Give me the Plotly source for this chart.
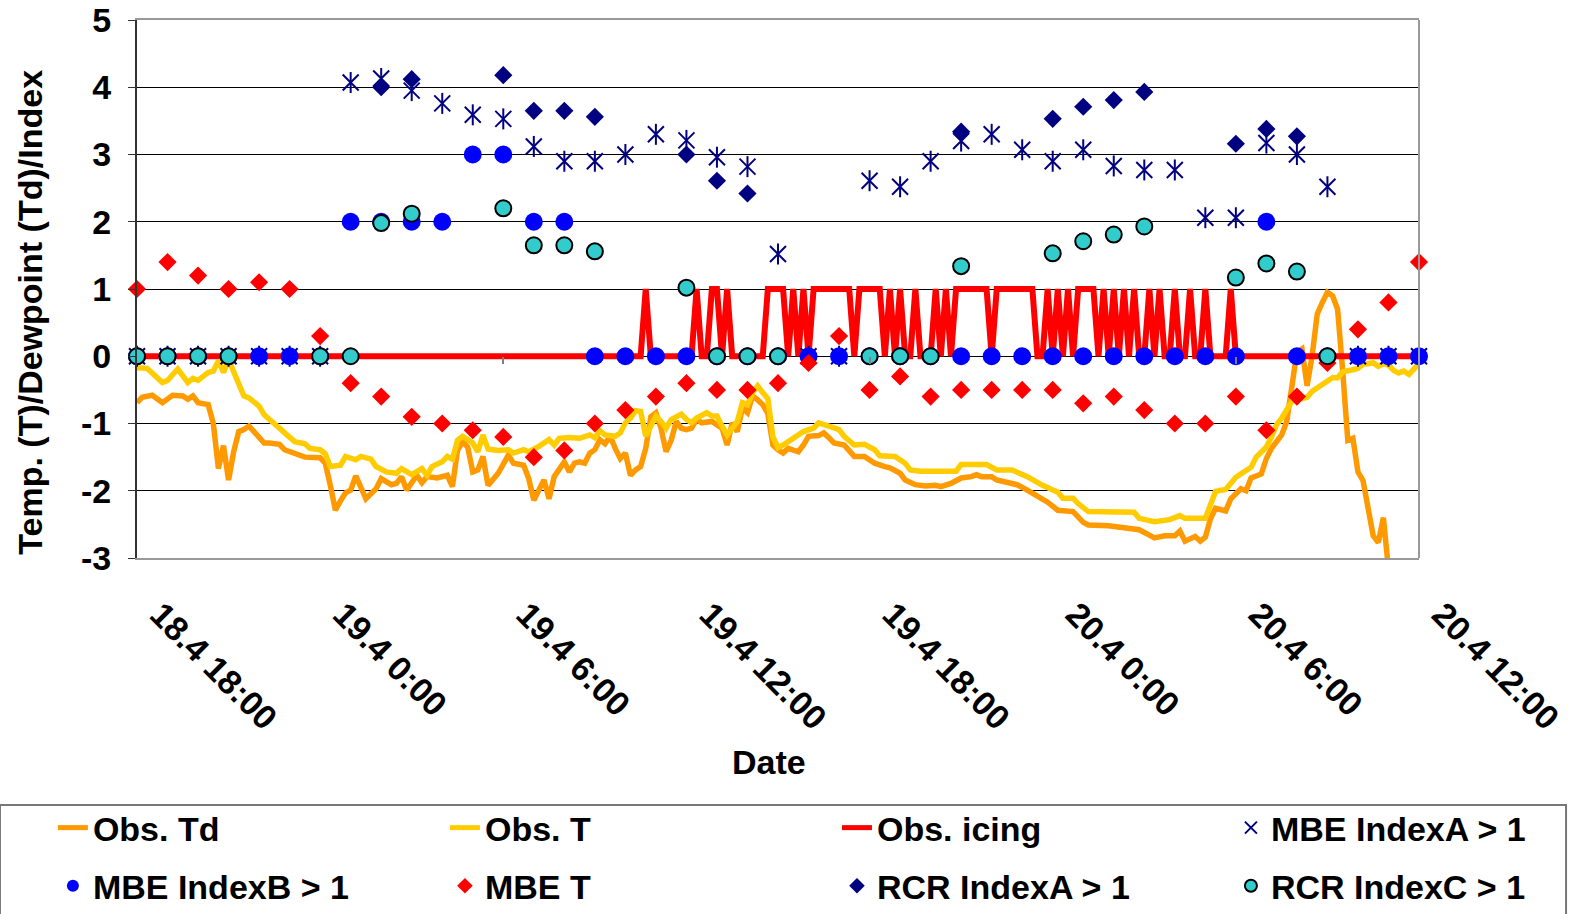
import pandas as pd
import plotly.graph_objects as go

START = pd.Timestamp("2008-04-18 18:00")

# ---------------- data ----------------
# hourly model output, hour 0 = 18.4 18:00 ... hour 42 = 20.4 12:00
hours = list(range(43))
mbe_index_a = [0, 0, 0, 0, 0, 0, 0, 4.07, 4.13, 3.95, 3.76, 3.59, 3.53, 3.12, 2.9,
               2.9, 3.0, 3.3, 3.21, 2.96, 2.82, 1.52, 0, 0, 2.61, 2.52, 2.9, 3.2,
               3.3, 3.07, 2.9, 3.07, 2.83, 2.77, 2.77, 2.06, 2.06, 3.17, 3.0, 2.52,
               0, 0, 0]
mbe_index_b = [0, 0, 0, 0, 0, 0, 0, 2, 2, 2, 2, 3, 3, 2, 2, 0, 0, 0, 0, 0, 0, 0,
               0, 0, 0, 0, 0, 0, 0, 0, 0, 0, 0, 0, 0, 0, 0, 2, 0, 0, 0, 0, 0]
mbe_t = [1.0, 1.4, 1.2, 1.0, 1.1, 1.0, 0.3, -0.4, -0.6, -0.9, -1.0, -1.1, -1.2,
         -1.5, -1.4, -1.0, -0.8, -0.6, -0.4, -0.5, -0.5, -0.4, -0.1, 0.3, -0.5,
         -0.3, -0.6, -0.5, -0.5, -0.5, -0.5, -0.7, -0.6, -0.8, -1.0, -1.0, -0.6,
         -1.1, -0.6, -0.1, 0.4, 0.8, 1.4]
rcr_index_a = [None, None, None, None, None, None, None, None, 4.0, 4.12, None,
               None, 4.18, 3.65, 3.65, 3.56, None, None, 3.0, 2.61, 2.42, None,
               None, None, None, None, None, 3.34, None, None, 3.53, 3.71, 3.81,
               3.93, None, None, 3.16, 3.38, 3.27, None, None, None, None]
rcr_index_c = [0, 0, 0, 0, None, None, 0, 0, 1.98, 2.12, None, None, 2.2, 1.65,
               1.65, 1.56, None, None, 1.02, 0, 0, 0, None, None, 0, 0, 0, 1.34,
               None, None, 1.53, 1.71, 1.81, 1.93, None, None, 1.17, 1.38, 1.26,
               0, None, None, None]

# observations, 10-minute steps after 18.4 18:00
td_step = [0, 1, 3, 4, 5, 7, 9, 10, 11, 12, 14, 15, 16, 17, 18, 19, 20, 21, 22, 23,
           25, 26, 28, 29, 30, 32, 33, 36, 37, 38, 39, 40, 41, 42, 43, 45, 47, 48,
           50, 51, 52, 53, 54, 55, 56, 57, 59, 60, 61, 62, 63, 64, 65, 66, 67, 68,
           69, 71, 72, 73, 74, 76, 77, 78, 79, 80, 81, 82, 84, 85, 86, 87, 88, 89,
           90, 91, 92, 93, 94, 95, 96, 97, 98, 99, 100, 101, 102, 103, 104, 105,
           106, 107, 108, 109, 110, 111, 113, 114, 115, 116, 117, 118, 119, 120,
           121, 122, 123, 124, 125, 126, 127, 128, 130, 131, 132, 134, 135, 136,
           137, 139, 141, 143, 145, 147, 148, 150, 151, 153, 155, 157, 158, 160,
           162, 164, 165, 166, 168, 169, 172, 173, 175, 177, 179, 181, 184, 186,
           187, 191, 193, 194, 197, 199, 200, 202, 204, 205, 206, 208, 209, 210,
           211, 212, 214, 215, 217, 218, 219, 221, 222, 223, 225, 226, 227, 228,
           229, 230, 231, 232, 233, 234, 235, 236, 237, 238, 239, 240, 241, 242,
           243, 244, 245, 246]
td_val = [-0.69, -0.61, -0.58, -0.64, -0.69, -0.58, -0.59, -0.64, -0.59, -0.69,
          -0.72, -1.0, -1.67, -1.33, -1.84, -1.42, -1.12, -1.09, -1.04, -1.12,
          -1.29, -1.29, -1.31, -1.39, -1.42, -1.47, -1.5, -1.51, -1.59, -1.92,
          -2.29, -2.15, -2.03, -1.99, -1.78, -2.12, -1.97, -1.82, -1.91, -1.89,
          -1.79, -1.99, -1.87, -1.77, -1.88, -1.79, -1.81, -1.79, -1.77, -1.94,
          -1.4, -1.27, -1.35, -1.72, -1.69, -1.49, -1.92, -1.74, -1.59, -1.47,
          -1.59, -1.62, -1.82, -2.14, -1.99, -1.84, -2.12, -1.79, -1.57, -1.72,
          -1.59, -1.57, -1.59, -1.44, -1.39, -1.24, -1.3, -1.19, -1.37, -1.52,
          -1.44, -1.77, -1.69, -1.64, -1.37, -0.9, -0.84, -1.07, -1.42, -1.25,
          -0.97, -1.07, -1.09, -1.07, -0.94, -0.99, -0.97, -1.02, -1.07, -1.32,
          -0.99, -1.12, -0.77, -0.84, -0.59, -0.65, -0.72, -0.85, -1.32, -1.39,
          -1.44, -1.37, -1.42, -1.32, -1.19, -1.18, -1.14, -1.21, -1.29, -1.32,
          -1.49, -1.49, -1.59, -1.64, -1.66, -1.74, -1.84, -1.91, -1.93, -1.92,
          -1.94, -1.89, -1.81, -1.79, -1.76, -1.79, -1.79, -1.84, -1.88, -1.91,
          -1.99, -2.07, -2.17, -2.29, -2.31, -2.47, -2.51, -2.52, -2.54, -2.57,
          -2.58, -2.66, -2.7, -2.67, -2.67, -2.6, -2.75, -2.68, -2.75, -2.69,
          -2.42, -2.26, -2.3, -2.12, -1.97, -2.0, -1.81, -1.75, -1.52, -1.37,
          -1.17, -0.97, -0.45, 0.06, 0.11, -0.44, 0.01, 0.63, 0.8, 0.95, 0.9,
          0.7, -0.22, -1.25, -1.22, -1.72, -1.85, -2.22, -2.67, -2.77, -2.4, -3.17]

t_step = [0, 2, 5, 6, 8, 10, 11, 12, 14, 15, 16, 17, 18, 20, 21, 22, 24, 25, 27,
          29, 31, 33, 34, 36, 37, 38, 40, 41, 43, 44, 46, 47, 49, 51, 52, 54, 55,
          56, 57, 58, 60, 61, 62, 63, 64, 66, 67, 68, 69, 71, 73, 74, 76, 77, 79,
          80, 81, 82, 83, 85, 87, 89, 90, 91, 92, 94, 95, 96, 97, 98, 99, 100, 101,
          102, 103, 104, 105, 107, 108, 109, 110, 112, 113, 114, 115, 116, 117,
          118, 119, 120, 121, 122, 123, 124, 125, 126, 127, 129, 131, 133, 134,
          136, 138, 139, 141, 143, 145, 146, 149, 151, 152, 154, 161, 162, 167,
          169, 172, 175, 177, 178, 180, 181, 182, 184, 185, 187, 196, 197, 200,
          203, 205, 206, 210, 211, 212, 214, 215, 216, 218, 219, 220, 222, 223,
          224, 225, 226, 227, 228, 230, 231, 232, 233, 235, 236, 237, 239, 240,
          241, 243, 244, 245, 246, 247, 248, 249, 250, 251, 252]
t_val = [-0.17, -0.18, -0.39, -0.36, -0.19, -0.39, -0.33, -0.36, -0.24, -0.22,
         -0.07, -0.24, -0.05, -0.42, -0.59, -0.62, -0.74, -0.87, -1.0, -1.14,
         -1.27, -1.3, -1.37, -1.39, -1.45, -1.64, -1.62, -1.49, -1.54, -1.49,
         -1.53, -1.64, -1.72, -1.74, -1.67, -1.76, -1.72, -1.67, -1.77, -1.64,
         -1.57, -1.49, -1.53, -1.25, -1.19, -1.29, -1.42, -1.17, -1.38, -1.4,
         -1.39, -1.44, -1.39, -1.42, -1.34, -1.29, -1.24, -1.32, -1.22, -1.21,
         -1.22, -1.17, -1.21, -1.11, -1.17, -1.19, -1.14, -0.99, -0.92, -0.81,
         -0.82, -1.19, -1.05, -0.89, -0.97, -1.07, -0.94, -0.86, -0.94, -0.99,
         -0.92, -0.84, -0.89, -0.89, -1.04, -1.17, -1.07, -0.97, -0.69, -0.72,
         -0.54, -0.44, -0.54, -0.63, -1.2, -1.36, -1.32, -1.22, -1.12, -1.07,
         -0.99, -1.04, -1.09, -1.19, -1.32, -1.31, -1.39, -1.48, -1.49, -1.59,
         -1.69, -1.71, -1.71, -1.61, -1.61, -1.69, -1.69, -1.79, -1.89, -1.92,
         -1.99, -2.02, -2.11, -2.11, -2.19, -2.31, -2.32, -2.41, -2.46, -2.43,
         -2.37, -2.41, -2.41, -2.22, -2.01, -1.98, -1.9, -1.8, -1.7, -1.65, -1.5,
         -1.35, -1.2, -1.02, -0.92, -0.8, -0.67, -0.65, -0.61, -0.52, -0.47,
         -0.4, -0.32, -0.32, -0.23, -0.2, -0.18, -0.12, -0.1, -0.15, -0.11,
         -0.13, -0.21, -0.25, -0.22, -0.27, -0.2, -0.11]

# observed icing (1 = icing), runs of 10-minute steps with icing
icing_last_step = 252
icing_runs = [(100, 100), (110, 110), (113, 114), (116, 116), (124, 127),
              (129, 129), (131, 131), (133, 140), (142, 146), (148, 148),
              (150, 150), (153, 153), (157, 157), (159, 159), (161, 167),
              (169, 176), (179, 179), (181, 181), (183, 183), (185, 188),
              (190, 190), (192, 192), (194, 194), (196, 196), (199, 199),
              (201, 201), (204, 204), (207, 207), (210, 210), (215, 215)]

tick_hours = [0, 6, 12, 18, 24, 30, 36, 42]
tick_text = ["18.4 18:00", "19.4 0:00", "19.4 6:00", "19.4 12:00",
             "19.4 18:00", "20.4 0:00", "20.4 6:00", "20.4 12:00"]
zero_tick_hours = [12, 24, 36]
y_ticks = [-3, -2, -1, 0, 1, 2, 3, 4, 5]
y_tick_text = ["-3", "-2", "-1", "0", "1", "2", "3", "4", "5"]

# ---------------- build ----------------
def at_steps(steps):
    return [START + pd.Timedelta(minutes=10 * s) for s in steps]

def at_hours(hs):
    return [START + pd.Timedelta(hours=h) for h in hs]

icing_steps = list(range(icing_last_step + 1))
icing_vals = [1 if any(a <= s <= b for a, b in icing_runs) else 0 for s in icing_steps]

FONT = "Liberation Sans, Arial, sans-serif"
NAVY = "#000080"
hx = at_hours(hours)

fig = go.Figure()
fig.add_trace(go.Scatter(x=at_steps(td_step), y=td_val, mode="lines", name="Obs. Td",
                         legend="legend", legendgroup="g1",
                         line=dict(color="#FF9900", width=5.5)))
fig.add_trace(go.Scatter(x=at_steps(t_step), y=t_val, mode="lines", name="Obs. T",
                         legend="legend2", legendgroup="g2",
                         line=dict(color="#FFCC00", width=5.5)))
fig.add_trace(go.Scatter(x=at_steps(icing_steps), y=icing_vals, mode="lines",
                         name="Obs. icing", legend="legend3", legendgroup="g3",
                         line=dict(color="#FF0000", width=6)))
fig.add_trace(go.Scatter(x=hx, y=mbe_index_a, mode="markers", name="MBE IndexA > 1",
                         legend="legend4", legendgroup="g4", cliponaxis=False,
                         marker=dict(symbol="x-thin-open", size=16, color=NAVY,
                                     line=dict(color=NAVY, width=2))))
fig.add_trace(go.Scatter(x=hx, y=mbe_index_a, mode="markers", name="MBE IndexA > 1",
                         legend="legend4", legendgroup="g4", showlegend=False,
                         cliponaxis=False,
                         marker=dict(symbol="line-ns-open", size=15, color=NAVY,
                                     line=dict(color=NAVY, width=2))))
fig.add_trace(go.Scatter(x=hx, y=mbe_index_b, mode="markers", name="MBE IndexB > 1",
                         legend="legend", legendgroup="g5", cliponaxis=False,
                         marker=dict(symbol="circle", size=18, color="#0000FF")))
fig.add_trace(go.Scatter(x=hx, y=mbe_t, mode="markers", name="MBE T", legend="legend2",
                         legendgroup="g6", cliponaxis=False,
                         marker=dict(symbol="diamond", size=14, color="#FF0000")))
fig.add_trace(go.Scatter(x=hx, y=rcr_index_a, mode="markers", name="RCR IndexA > 1",
                         legend="legend3", legendgroup="g7", cliponaxis=False,
                         marker=dict(symbol="diamond", size=14, color=NAVY)))
fig.add_trace(go.Scatter(x=hx, y=rcr_index_c, mode="markers", name="RCR IndexC > 1",
                         legend="legend4", legendgroup="g8", cliponaxis=False,
                         xaxis="x2",
                         marker=dict(symbol="circle", size=16, color="#33CCCC",
                                     line=dict(color="#000000", width=2))))

LEG_Y = -0.448
def leg(x):
    return dict(orientation="v", x=x, xanchor="left", y=LEG_Y, yanchor="top",
                bgcolor="rgba(0,0,0,0)", borderwidth=0, itemsizing="constant",
                tracegroupgap=11,
                font=dict(family=FONT, size=34, weight="bold"))

xr = [START, START + pd.Timedelta(hours=42)]
fig.update_layout(
    width=1571, height=914,
    margin=dict(l=137, r=152, t=20, b=356, autoexpand=False),
    paper_bgcolor="white", plot_bgcolor="white",
    font=dict(family=FONT, size=34, color="black", weight="bold"),
    showlegend=True,
    xaxis=dict(type="date", range=xr, tickmode="array", tickvals=at_hours(tick_hours),
               ticktext=tick_text, tickangle=45, ticks="", showgrid=False,
               zeroline=False, showline=True, linecolor="#999999", linewidth=2,
               mirror=True, ticklabelstandoff=21, ticklabelshift=23, automargin=False,
               ticklabeloverflow="allow",
               tickfont=dict(family=FONT, size=34, weight="bold")),
    xaxis2=dict(type="date", overlaying="x", matches="x", anchor="free",
                position=0.375, side="bottom", showline=False, showgrid=False,
                zeroline=False, ticks="outside", ticklen=7, tickwidth=2,
                tickcolor="#808080", tickmode="array",
                tickvals=at_hours(zero_tick_hours), showticklabels=False),
    yaxis=dict(range=[-3, 5], tickmode="array", tickvals=y_ticks,
               ticktext=y_tick_text, showgrid=True, gridcolor="black",
               gridwidth=1, zeroline=False, showline=True, linecolor="#333333",
               linewidth=2, ticks="outside", ticklen=7, tickcolor="#333333",
               ticklabelstandoff=10, automargin=False, ticklabeloverflow="allow",
               tickfont=dict(family=FONT, size=34, weight="bold")),
    legend=leg(-0.0656),
    legend2=leg(0.2402),
    legend3=leg(0.5460),
    legend4=leg(0.8533),
    annotations=[
        dict(text="Temp. (T)/Dewpoint (Td)/Index", textangle=-90, xref="paper",
             yref="paper", x=-0.083, y=0.457, xanchor="center", yanchor="middle",
             showarrow=False, font=dict(family=FONT, size=34, weight="bold")),
        dict(text="Date", xref="paper", yref="paper", x=0.493, y=-0.379,
             xanchor="center", yanchor="middle", showarrow=False,
             font=dict(family=FONT, size=34, weight="bold")),
    ],
    shapes=[
        dict(type="line", xref="paper", yref="paper", x0=1, x1=1, y0=0, y1=1,
             line=dict(color="#999999", width=2)),
        dict(type="rect", xref="paper", yref="paper", x0=-0.1069, x1=1.1147,
             y0=-0.70, y1=-0.459, line=dict(color="#777777", width=2)),
    ],
)

fig.write_html("out.html",
               config={"displayModeBar": False},
               post_script="document.body.style.margin='0';"
                           "document.body.style.overflow='hidden';")
